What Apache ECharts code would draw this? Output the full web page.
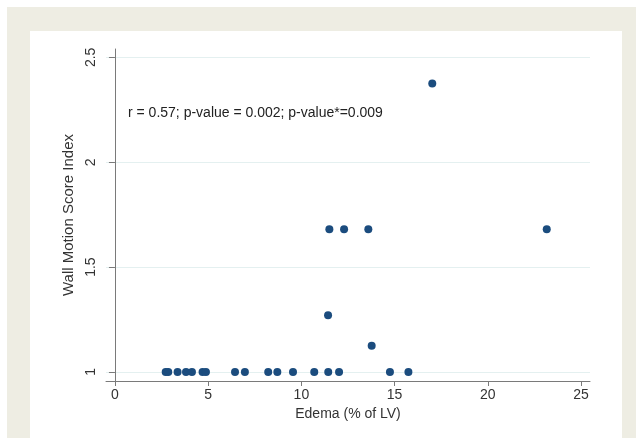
<!DOCTYPE html>
<html>
<head>
<meta charset="utf-8">
<script src="https://cdn.jsdelivr.net/npm/echarts@6/dist/echarts.min.js"></script>
<style>
    html, body { margin: 0; padding: 0; background: #ffffff; }
    #frame { position: absolute; left: 7px; top: 7px; width: 629px; height: 431px; background: #eeede3; }
    #panel { position: absolute; left: 30px; top: 31px; width: 592px; height: 407px; background: #ffffff; }
    #main { position: absolute; left: 0; top: 0; width: 636px; height: 438px; }
</style>
</head>
<body>
<div id="frame"></div>
<div id="panel"></div>
<div id="main"></div>
<script>
// edema (% of LV) vs wall motion score index
var edema = [2.72, 2.86, 3.36, 3.81, 4.13, 4.70, 4.88, 6.44, 6.97, 8.22, 8.71, 9.55, 10.69, 11.44, 12.02, 14.75, 15.74,
             11.43, 13.77, 11.50, 12.29, 13.59, 23.16, 17.02];
var wmsi = [1, 1, 1, 1, 1, 1, 1, 1, 1, 1, 1, 1, 1, 1, 1, 1, 1,
            1.27, 1.125, 1.68, 1.68, 1.68, 1.68, 2.375];
var xTicks = [0, 5, 10, 15, 20, 25];
var yTicks = [1, 1.5, 2, 2.5];
var statText = 'r = 0.57; p-value = 0.002; p-value*=0.009';

var points = [];
for (var i = 0; i < edema.length; i++) {
    points.push([edema[i], wmsi[i]]);
}

var myChart = echarts.init(document.getElementById('main'));
var font = 'Liberation Sans, Arial, sans-serif';

myChart.setOption({
    animation: false,
    grid: { left: 106, right: 46, top: 49, bottom: 57 },
    xAxis: {
        type: 'value',
        min: -0.48,
        max: 25.48,
        name: 'Edema (% of LV)',
        nameLocation: 'middle',
        nameGap: 24,
        nameTextStyle: { color: '#333', fontSize: 14, fontFamily: font },
        axisLine: { lineStyle: { color: '#7a7a7a' } },
        axisTick: { show: true, length: 5, customValues: xTicks, lineStyle: { color: '#7a7a7a' } },
        axisLabel: { customValues: xTicks, margin: 7, color: '#333', fontSize: 14, fontFamily: font },
        splitLine: { show: false }
    },
    yAxis: {
        type: 'value',
        min: 0.957,
        max: 2.54,
        name: 'Wall Motion Score Index',
        nameLocation: 'middle',
        nameGap: 30,
        nameRotate: 90,
        nameTextStyle: { color: '#333', fontSize: 15, fontFamily: font },
        axisLine: { show: true, lineStyle: { color: '#7a7a7a' } },
        axisTick: { show: true, length: 6, customValues: yTicks, lineStyle: { color: '#7a7a7a' } },
        axisLabel: { customValues: yTicks, rotate: 90, margin: 8, color: '#333', fontSize: 14, fontFamily: font },
        splitLine: { show: true, lineStyle: { color: '#e4f0f0', width: 1 } }
    },
    graphic: [{
        type: 'text',
        x: 128,
        y: 113,
        style: {
            text: statText,
            fill: '#222',
            fontSize: 14,
            fontFamily: font,
            verticalAlign: 'middle'
        }
    }],
    series: [{
        type: 'scatter',
        symbolSize: 8,
        itemStyle: { color: '#1b4c7e', opacity: 1 },
        data: points
    }]
});
</script>
</body>
</html>
